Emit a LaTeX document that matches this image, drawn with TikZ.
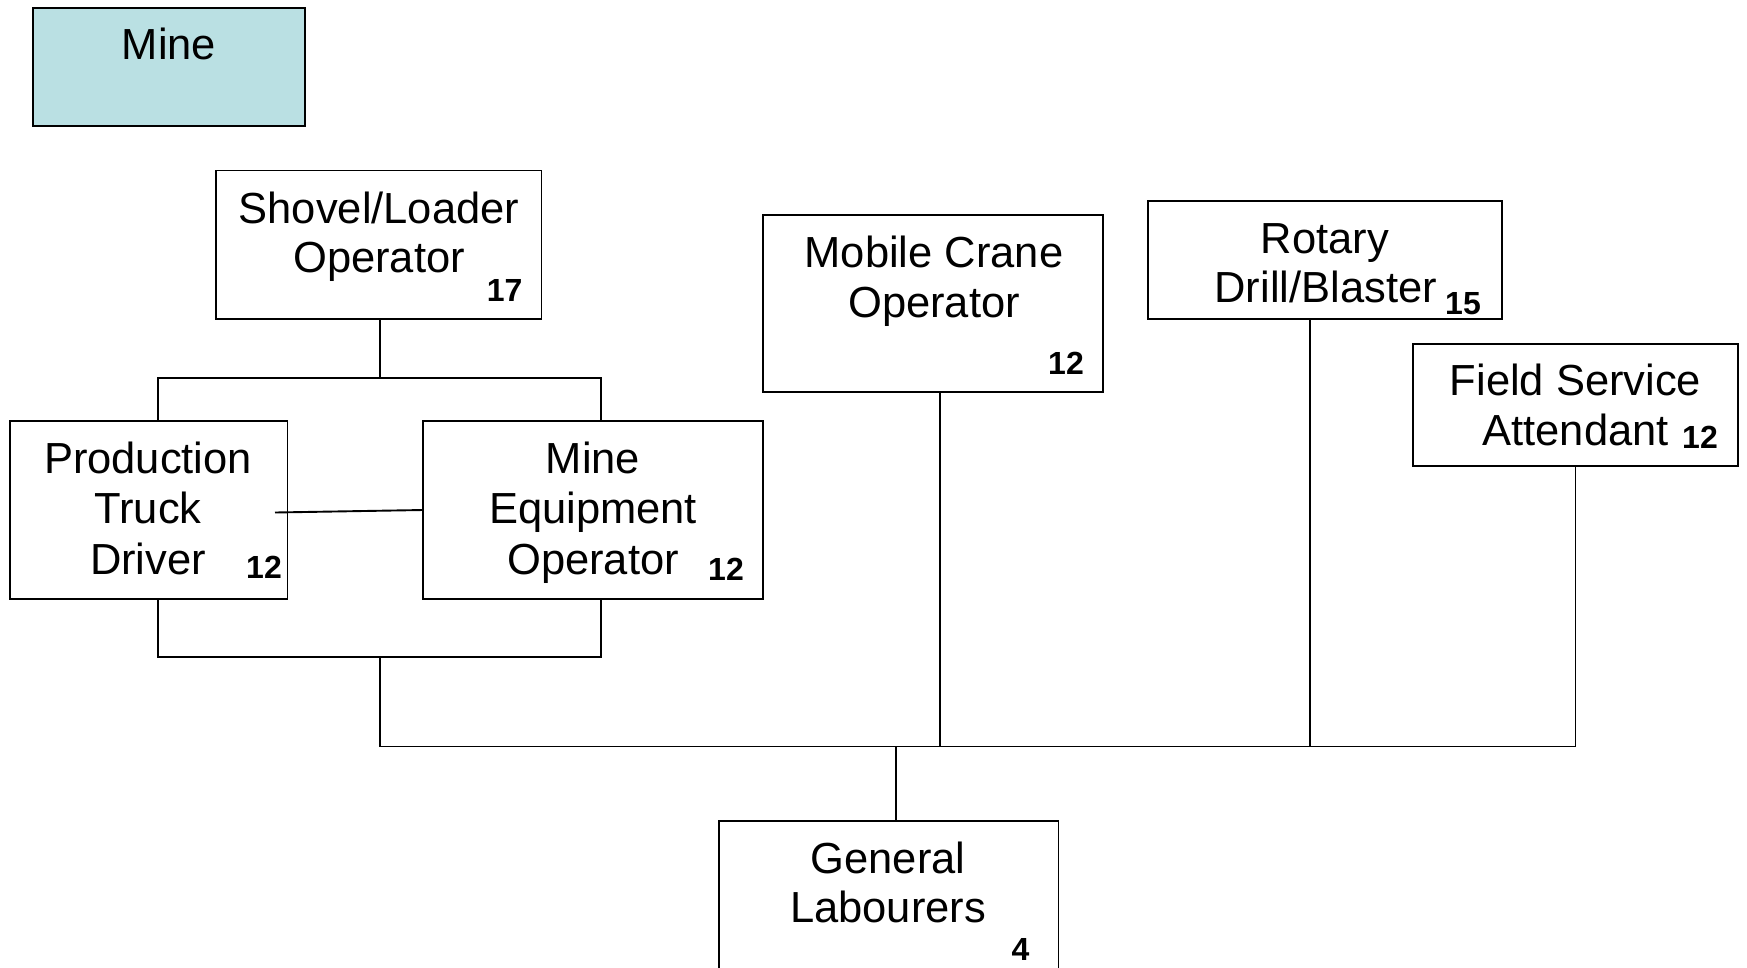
\documentclass[tikz,border=0pt]{standalone}
\usepackage{fontspec}
\setmainfont{Liberation Sans}
\definecolor{minecyan}{RGB}{186,224,227}
\begin{document}
\begin{tikzpicture}[x=1pt,y=-1pt,
  box/.style={draw=black,line width=1.8pt,fill=white,inner sep=0pt,outer sep=0pt},
  txt/.style={anchor=base,inner sep=0pt,font=\fontsize{43.5}{50}\selectfont},
  num/.style={anchor=base,inner sep=0pt,font=\bfseries\fontsize{32}{36}\selectfont},
  conn/.style={draw=black,line width=1.9pt}]
\useasboundingbox (0,0) rectangle (1747,967);
% boxes
\node[box,fill=minecyan,minimum width=272pt,minimum height=118pt] (mine) at (169,67) {};
\node[box,minimum width=325.5pt,minimum height=148.2pt] (shovel) at (378.75,244.6) {};
\node[box,minimum width=340pt,minimum height=177pt] (crane) at (933,303.5) {};
\node[box,minimum width=354pt,minimum height=118.1pt] (rotary) at (1325,259.65) {};
\node[box,minimum width=325pt,minimum height=122pt] (field) at (1575.5,405) {};
\node[box,minimum width=277.5pt,minimum height=178pt] (truck) at (148.75,510) {};
\node[box,minimum width=340pt,minimum height=178pt] (meo) at (593,510) {};
\node[box,minimum width=339.5pt,minimum height=169pt] (general) at (888.75,905.5) {};
% helper coordinates
\coordinate (tx) at (158,0);
\coordinate (mx) at (600.6,0);
\coordinate (cx) at (940.4,0);
\coordinate (rx) at (1310,0);
\coordinate (gx) at (895.8,0);
\coordinate (jt) at (380,377.7);
\coordinate (jb) at (380,657.4);
\coordinate (jm) at (380,746.5);
\coordinate (tl) at (275,512.5);
% connectors
\draw[conn] (jt |- shovel.south) -- (jt);
\draw[conn] (tx |- truck.north) |- (jt) -| (mx |- meo.north);
\draw[conn] (tx |- truck.south) |- (jb) -| (mx |- meo.south);
\draw[conn] (jb) -- (jm);
\draw[conn] (jm) -| (field.south);
\draw[conn] (cx |- crane.south) -- (cx |- jm);
\draw[conn] (rx |- rotary.south) -- (rx |- jm);
\draw[conn] (gx |- jm) -- (gx |- general.north);
\draw[conn] (tl) -- (meo.west);
% texts
\node[txt] (t-mine) at (169,59) {Mine};
\node[txt] (t-sh1) at (379,223) {Shovel/Loader};
\node[txt] (t-sh2) at (379,272) {Operator};
\node[num,anchor=base east] (n-sh) at (522.6,301) {17};
\node[txt] (t-cr1) at (934,267.4) {Mobile Crane};
\node[txt] (t-cr2) at (934,317) {Operator};
\node[num,anchor=base east] (n-cr) at (1084,374) {12};
\node[txt] (t-ro1) at (1325,253) {Rotary};
\node[txt,anchor=base east] (t-ro2) at (1437,302) {Drill/Blaster};
\node[num,anchor=base west] (n-ro) at (1445,314) {15};
\node[txt] (t-fi1) at (1575.5,395.5) {Field Service};
\node[txt,anchor=base east] (t-fi2) at (1669,445.7) {Attendant};
\node[num,anchor=base west] (n-fi) at (1682,448) {12};
\node[txt] (t-tr1) at (148,473.5) {Production};
\node[txt] (t-tr2) at (148,523.7) {Truck};
\node[txt] (t-tr3) at (148,574) {Driver};
\node[num,anchor=base east] (n-tr) at (282,578) {12};
\node[txt] (t-me1) at (593,473.5) {Mine};
\node[txt] (t-me2) at (593,523.7) {Equipment};
\node[txt] (t-me3) at (593,574) {Operator};
\node[num,anchor=base east] (n-me) at (744,580.5) {12};
\node[txt] (t-ge1) at (888,873.5) {General};
\node[txt] (t-ge2) at (888,922.6) {Labourers};
\node[num] (n-ge) at (1020.6,960) {4};
\end{tikzpicture}
\end{document}
